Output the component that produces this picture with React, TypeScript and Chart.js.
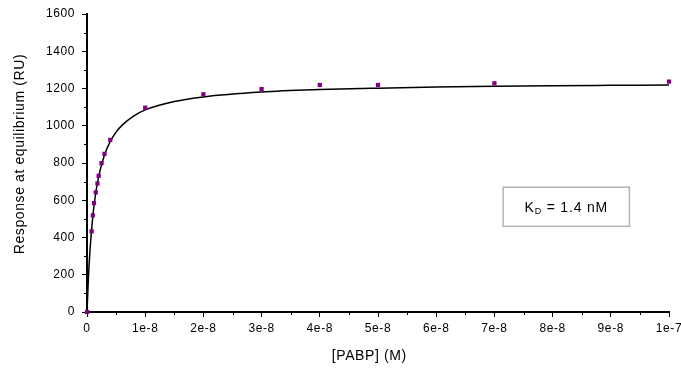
import React, { useEffect, useRef } from "react";
import { Chart, registerables } from "chart.js";

Chart.register(...registerables);

// Measured concentrations (M) and equilibrium responses (RU)
const concentrations = [0, 0.8e-9, 1.0e-9, 1.2e-9, 1.5e-9, 1.8e-9, 2.0e-9, 2.5e-9, 3.0e-9, 4.0e-9, 1e-8, 2e-8, 3e-8, 4e-8, 5e-8, 7e-8, 1e-7];
const responses = [0, 433, 519, 585, 642, 690, 731, 799, 849, 924, 1097, 1169, 1197, 1219, 1219, 1228, 1237];

// Fitted binding curve
const fitX = [0, 0.25e-9, 0.5e-9, 1e-9, 1.5e-9, 2e-9, 3e-9, 4e-9, 5e-9, 6e-9, 8e-9, 1e-8, 1.5e-8, 2e-8, 3e-8, 4e-8, 5e-8, 6e-8, 7e-8, 8e-8, 9e-8, 1e-7];
const fitY = [0, 187, 325, 515, 639, 727, 843, 916, 966, 1002, 1052, 1085, 1130, 1155, 1181, 1194, 1202, 1208, 1212, 1215, 1217, 1219];

const xTickLabels = ["0", "1e-8", "2e-8", "3e-8", "4e-8", "5e-8", "6e-8", "7e-8", "8e-8", "9e-8", "1e-7"];
const yTickLabels = ["0", "200", "400", "600", "800", "1000", "1200", "1400", "1600"];

const xTitle = "[PABP] (M)";
const yTitle = "Response at equilibrium (RU)";

const FONT = "'Liberation Sans', Arial, sans-serif";
const SPACING = "0.6px";

const spacing = {
  id: "spacing",
  beforeLayout(chart: any) {
    chart.ctx.letterSpacing = SPACING;
  },
  beforeDraw(chart: any) {
    chart.ctx.letterSpacing = SPACING;
  },
};

const axisTitles = {
  id: "axisTitles",
  afterDraw(chart: any) {
    const ctx = chart.ctx;
    const ca = chart.chartArea;
    ctx.save();
    ctx.letterSpacing = SPACING;
    ctx.fillStyle = "#000";
    ctx.font = `14px ${FONT}`;
    ctx.textAlign = "center";
    ctx.textBaseline = "middle";
    const cx = ca.left + (ca.right - ca.left) * 0.485;
    ctx.fillText(xTitle, cx, ca.bottom + 44);
    const cy = ca.top + (ca.bottom - ca.top) * 0.47;
    ctx.translate(20, cy);
    ctx.rotate(-Math.PI / 2);
    ctx.fillText(yTitle, 0, 0);
    ctx.restore();
  },
};

const minorTicks = {
  id: "minorTicks",
  afterDraw(chart: any) {
    const ctx = chart.ctx;
    const xs = chart.scales.x;
    const ys = chart.scales.y;
    ctx.save();
    ctx.strokeStyle = "#000";
    ctx.lineWidth = 1;
    ctx.beginPath();
    for (let i = 0; i < xTickLabels.length - 1; i++) {
      const px = Math.round(xs.getPixelForValue((i + 0.5) * 1e-8)) + 0.5;
      ctx.moveTo(px, ys.bottom);
      ctx.lineTo(px, ys.bottom + 3);
    }
    for (let i = 0; i < yTickLabels.length - 1; i++) {
      const py = Math.round(ys.getPixelForValue((i + 0.5) * 200)) + 0.5;
      ctx.moveTo(xs.left, py);
      ctx.lineTo(xs.left - 3, py);
    }
    ctx.stroke();
    ctx.restore();
  },
};

const kdBox = {
  id: "kdBox",
  afterDraw(chart: any) {
    const ctx = chart.ctx;
    const xs = chart.scales.x;
    const ys = chart.scales.y;
    const left = xs.getPixelForValue(7.15e-8);
    const right = xs.getPixelForValue(9.32e-8);
    const top = ys.getPixelForValue(670);
    const bottom = ys.getPixelForValue(460);
    ctx.save();
    ctx.letterSpacing = "0.8px";
    ctx.strokeStyle = "#b4b4b4";
    ctx.lineWidth = 1.5;
    ctx.strokeRect(left, top, right - left, bottom - top);
    ctx.fillStyle = "#000";
    ctx.textBaseline = "alphabetic";
    ctx.textAlign = "left";
    const main1 = "K";
    const sub = "D";
    const main2 = " = 1.4 nM";
    ctx.font = `14px ${FONT}`;
    const w1 = ctx.measureText(main1).width;
    const w3 = ctx.measureText(main2).width;
    ctx.font = `9px ${FONT}`;
    const w2 = ctx.measureText(sub).width;
    const total = w1 + w2 + w3;
    let x = (left + right) / 2 - total / 2;
    const base = (top + bottom) / 2 + 5;
    ctx.font = `14px ${FONT}`;
    ctx.fillText(main1, x, base);
    x += w1;
    ctx.font = `9px ${FONT}`;
    ctx.fillText(sub, x, base + 2);
    x += w2;
    ctx.font = `14px ${FONT}`;
    ctx.fillText(main2, x, base);
    ctx.restore();
  },
};

export default function App() {
  const ref = useRef<HTMLCanvasElement | null>(null);
  useEffect(() => {
    if (!ref.current) return;
    const chart = new Chart(ref.current, {
      type: "scatter",
      data: {
        datasets: [
          {
            type: "line",
            label: "Fit",
            data: fitX.map((x, i) => ({ x, y: fitY[i] })),
            borderColor: "#000",
            borderWidth: 1.5,
            pointRadius: 0,
            cubicInterpolationMode: "monotone",
            fill: false,
            order: 2,
          } as any,
          {
            label: "Data",
            data: concentrations.map((x, i) => ({ x, y: responses[i] })),
            backgroundColor: "#800080",
            borderColor: "#800080",
            borderWidth: 0,
            pointStyle: "rect",
            pointRadius: 3,
            clip: false,
            order: 1,
          } as any,
        ],
      },
      options: {
        animation: false,
        responsive: false,
        maintainAspectRatio: false,
        layout: { padding: { top: 14, right: 12, left: 0, bottom: 0 } },
        plugins: { legend: { display: false }, tooltip: { enabled: false } },
        scales: {
          x: {
            type: "linear",
            min: 0,
            max: 1e-7,
            afterBuildTicks: (scale: any) => {
              scale.ticks = xTickLabels.map((_, i) => ({ value: i * 1e-8 }));
            },
            ticks: {
              color: "#000",
              font: { family: FONT, size: 12 },
              padding: 4,
              maxRotation: 0,
              autoSkip: false,
              callback: (_v: any, i: number) => xTickLabels[i],
            },
            grid: { drawOnChartArea: false, drawTicks: true, tickLength: 5, color: "#000", tickColor: "#000" },
            border: { color: "#000", width: 2 },
            title: { display: false },
            afterFit: (scale: any) => {
              scale.height = 59;
              scale.paddingLeft = 0;
              scale.paddingRight = 0;
            },
          },
          y: {
            type: "linear",
            min: 0,
            max: 1600,
            afterBuildTicks: (scale: any) => {
              scale.ticks = yTickLabels.map((_, i) => ({ value: i * 200 }));
            },
            ticks: {
              color: "#000",
              font: { family: FONT, size: 12 },
              padding: 7,
              autoSkip: false,
              callback: (_v: any, i: number) => yTickLabels[i],
            },
            grid: { drawOnChartArea: false, drawTicks: true, tickLength: 5, color: "#000", tickColor: "#000" },
            border: { color: "#000", width: 2 },
            title: { display: false },
            afterFit: (scale: any) => {
              scale.width = 87;
              scale.paddingTop = 0;
              scale.paddingBottom = 0;
            },
          },
        },
      } as any,
      plugins: [spacing, minorTicks, kdBox, axisTitles],
    });
    return () => chart.destroy();
  }, []);
  return (
    <div style={{ position: "absolute", left: 0, top: 0, width: 681, height: 371, background: "#fff" }}>
      <canvas ref={ref} width={681} height={371} style={{ width: 681, height: 371 }} />
    </div>
  );
}
